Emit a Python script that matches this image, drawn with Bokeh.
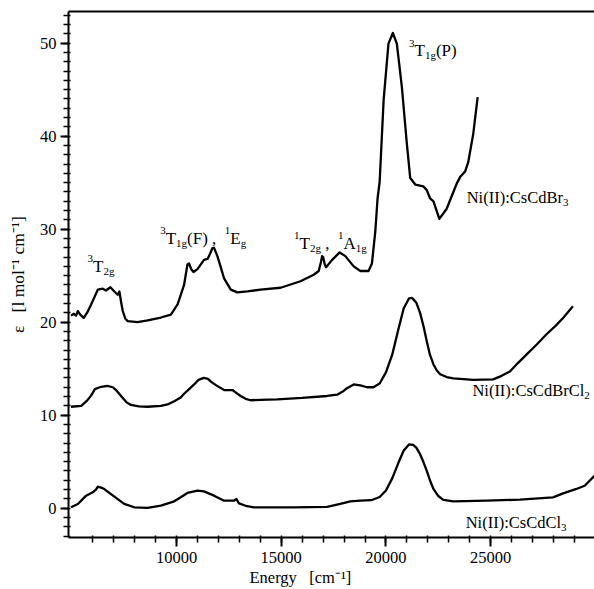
import math
from bokeh.plotting import figure
from bokeh.models import Range1d, FixedTicker, LinearAxis, Label, Title
from bokeh.embed import file_html
from bokeh.resources import INLINE

# ---------------- data ----------------
br3_energy = [4960, 5100, 5200, 5290, 5400, 5570, 5750, 5920, 6240, 6480, 6630, 6840, 7030,
              7190, 7270, 7350, 7430, 7550, 7670, 8140, 8620, 9250, 9730, 10050, 10360, 10520,
              10600, 10700, 10810, 11000, 11310, 11480, 11550, 11710, 11790, 11950, 12100, 12270,
              12590, 12900, 13380, 14010, 14970, 15920, 16550, 16790, 16900, 16950, 17000, 17080,
              17140, 17430, 17790, 18060, 18460, 18780, 19170, 19330, 19490, 19600, 19700, 19890,
              20120, 20330, 20520, 20760, 21000, 21160, 21400, 21790, 21950, 22110, 22270, 22550,
              22900, 23220, 23380, 23540, 23780, 23930, 24170, 24380]
br3_eps = [20.7, 20.9, 20.7, 21.2, 20.8, 20.45, 21.1, 21.9, 23.5, 23.6, 23.4, 23.75, 23.3,
           22.95, 23.3, 22.2, 21.2, 20.4, 20.1, 20.0, 20.2, 20.5, 20.8, 21.9, 24.0, 26.2,
           26.3, 25.7, 25.4, 25.7, 26.7, 26.8, 27.1, 27.95, 28.0, 27.1, 26.0, 24.7,
           23.5, 23.2, 23.3, 23.5, 23.7, 24.4, 25.1, 25.5, 26.5, 27.1, 27.0, 26.2,
           25.9, 26.7, 27.5, 27.1, 26.0, 25.5, 25.5, 26.3, 29.7, 33.3, 35.1, 43.9,
           49.95, 51.1, 49.95, 45.3, 39.15, 35.5, 34.8, 34.6, 34.2, 33.3, 33.0, 31.1,
           32.2, 34.0, 34.9, 35.6, 36.2, 37.2, 40.25, 44.2]

brcl2_energy = [4960, 5450, 5700, 5920, 6100, 6400, 6700, 6950, 7110, 7350, 7600, 7820, 8200,
                8620, 9250, 9570, 9890, 10200, 10360, 10600, 10840, 11050, 11300, 11500, 11640,
                11900, 12270, 12670, 12850, 13060, 13300, 13540, 14000, 14810, 16000, 17190,
                17670, 17980, 18140, 18460, 18780, 19100, 19400, 19700, 20000, 20300, 20600,
                20850, 21100, 21250, 21450, 21630, 21800, 21950, 22100, 22270, 22430, 22590,
                22900, 23220, 24170, 25120, 25500, 25920, 26300, 26710, 27200, 27670, 28100,
                28460, 28930]
brcl2_eps = [10.9, 11.0, 11.5, 12.1, 12.8, 13.05, 13.15, 13.0, 12.7, 12.06, 11.4, 11.1, 10.95,
             10.9, 11.0, 11.15, 11.5, 11.9, 12.3, 12.8, 13.3, 13.8, 14.0, 13.9, 13.6,
             13.2, 12.7, 12.7, 12.4, 12.06, 11.75, 11.6, 11.65, 11.7, 11.85, 12.06,
             12.2, 12.6, 12.9, 13.3, 13.2, 13.0, 13.0, 13.4, 14.6, 16.5, 19.3,
             21.5, 22.55, 22.6, 22.1, 21.0, 19.5, 17.95, 16.5, 15.45, 14.8, 14.4,
             14.1, 13.95, 13.8, 13.85, 14.2, 14.7, 15.6, 16.5, 17.6, 18.7, 19.6,
             20.45, 21.7]

cl3_energy = [4960, 5290, 5680, 6000, 6150, 6240, 6400, 6550, 7030, 7500, 7980, 8620, 9250,
              9890, 10200, 10520, 11000, 11310, 11790, 12270, 12740, 12860, 12980, 13300, 13700,
              15600, 17190, 17820, 18300, 18780, 19300, 19700, 20000, 20300, 20600, 20850,
              21100, 21300, 21450, 21630, 21800, 21950, 22100, 22270, 22500, 22740, 23220,
              24810, 26400, 27980, 28460, 29100, 29490, 29960]
cl3_eps = [0.09, 0.45, 1.34, 1.7, 2.0, 2.3, 2.2, 2.05, 1.23, 0.45, 0.09, 0.02, 0.27,
           0.73, 1.16, 1.63, 1.88, 1.8, 1.34, 0.8, 0.8, 0.98, 0.51, 0.25, 0.09,
           0.09, 0.13, 0.45, 0.73, 0.8, 0.85, 1.2, 1.9, 3.2, 4.9, 6.2,
           6.85, 6.8, 6.5, 5.8, 4.9, 4.0, 3.0, 2.06, 1.3, 0.88, 0.73,
           0.8, 0.91, 1.16, 1.59, 2.06, 2.41, 3.48]

x_major = [10000, 15000, 20000, 25000]
x_minor = list(range(6000, 30000, 1000))
y_major = [0, 10, 20, 30, 40, 50]
y_minor = list(range(-3, 54))

x_title = "Energy\u00a0\u00a0\u00a0[cm\u207b\u00b9]"
y_title = "\u03b5\u00a0\u00a0\u00a0[l mol\u207b\u00b9 cm\u207b\u00b9]"

# ---------------- figure ----------------
FONT = "Liberation Serif"

p = figure(width=594, height=589, output_backend="svg", toolbar_location=None,
           x_range=Range1d(4840, 29960), y_range=Range1d(-3.16, 53.41),
           min_border_left=68, min_border_right=0, min_border_top=11, min_border_bottom=52)
p.outline_line_color = None
p.xgrid.visible = False
p.ygrid.visible = False
p.background_fill_color = "white"
p.border_fill_color = "white"

xa = p.xaxis[0]
xa.ticker = FixedTicker(ticks=x_major, minor_ticks=x_minor)
ya = p.yaxis[0]
ya.ticker = FixedTicker(ticks=y_major, minor_ticks=y_minor)
for ax in (xa, ya):
    ax.axis_line_width = 2
    ax.axis_line_color = "black"
    ax.major_tick_line_width = 2
    ax.minor_tick_line_width = 1.5
    ax.major_tick_line_color = "black"
    ax.minor_tick_line_color = "black"
    ax.major_tick_in = 0
    ax.minor_tick_in = 2
    ax.minor_tick_out = 5
    ax.major_label_text_font = FONT
    ax.major_label_text_font_size = "16.5px"
    ax.major_label_text_color = "black"
xa.major_tick_out = 9
xa.major_label_standoff = 5
ya.major_tick_out = 8
ya.major_label_standoff = 4
ya.axis_label = y_title
ya.axis_label_text_font = FONT
ya.axis_label_text_font_size = "17.5px"
ya.axis_label_text_font_style = "normal"
ya.axis_label_text_color = "black"
ya.axis_label_standoff = 9

top = LinearAxis(ticker=FixedTicker(ticks=[]), major_label_text_font_size="0px",
                 axis_line_width=2, axis_line_color="black",
                 major_tick_in=0, major_tick_out=0, minor_tick_in=0, minor_tick_out=0)
p.add_layout(top, "above")

p.add_layout(Title(text=x_title, align="left", offset=181, standoff=0,
                   text_font=FONT, text_font_size="16.5px", text_font_style="normal",
                   text_color="black"), "below")

for xs, ys in ((br3_energy, br3_eps), (brcl2_energy, brcl2_eps), (cl3_energy, cl3_eps)):
    p.line(xs, ys, line_color="black", line_width=2.3, line_join="round")

# ---------------- rich text labels ----------------
W = {' ': 250, '(': 333, ')': 333, ',': 250, '-': 333, ':': 278, '[': 333, ']': 333,
     'A': 722, 'B': 667, 'C': 667, 'E': 611, 'F': 556, 'I': 333, 'N': 722, 'P': 556, 'T': 611,
     'c': 444, 'd': 500, 'e': 444, 'g': 500, 'i': 278, 'l': 278, 'm': 778, 'n': 500,
     'o': 500, 'r': 333, 's': 389, 'y': 500}


def text_width(t, fs):
    return sum(W.get(ch, 500) for ch in t) / 1000.0 * fs


def rich(x, y, parts, size=17, small=11):
    adv = 0.0
    for txt, role in parts:
        fs = size if role == "n" else small
        yo = 0.0 if role == "n" else (7.5 if role == "sup" else -4.5)
        if txt.strip():
            p.add_layout(Label(x=x, y=y, text=txt, x_offset=adv, y_offset=yo,
                               text_font=FONT, text_font_size=f"{fs}px",
                               text_baseline="alphabetic", text_align="left",
                               text_color="black"))
        adv += text_width(txt, fs)


rich(5752, 26.0, [("3", "sup"), ("T", "n"), ("2g", "sub")])
rich(9217, 29.0, [("3", "sup"), ("T", "n"), ("1g", "sub"), ("(F)", "n"), (" ", "n"),
                  (",", "n"), ("  ", "n"), ("1", "sup"), ("E", "n"), ("g", "sub")])
rich(15613, 28.5, [("1", "sup"), ("T", "n"), ("2g", "sub"), (" ", "n"), (",", "n"),
                   ("  ", "n"), ("1", "sup"), ("A", "n"), ("1g", "sub")])
rich(21102, 49.2, [("3", "sup"), ("T", "n"), ("1g", "sub"), ("(P)", "n")])
rich(23856, 33.4, [("Ni(II):CsCdBr", "n"), ("3", "sub")], size=16.5)
rich(24128, 12.6, [("Ni(II):CsCdBrCl", "n"), ("2", "sub")], size=16.5)
rich(23808, -1.55, [("Ni(II):CsCdCl", "n"), ("3", "sub")], size=16.5)

open("out.html", "w").write(file_html(p, INLINE))
